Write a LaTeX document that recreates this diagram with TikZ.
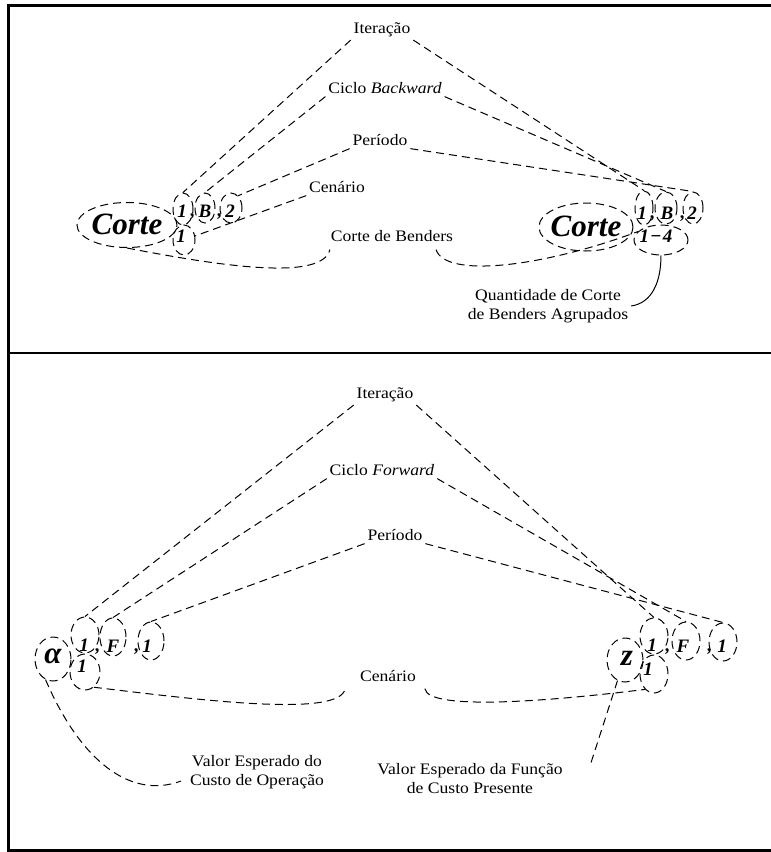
\documentclass[tikz,border=0pt]{standalone}
\usepackage{fontspec}
\setmainfont{Liberation Serif}
\newfontfamily\lblfont[FakeStretch=1.1]{Liberation Serif}
\usetikzlibrary{shapes.geometric,calc}
\begin{document}
\begin{tikzpicture}[x=1pt,y=-1pt,
  dl/.style={dash pattern=on 8pt off 5pt, line width=1pt},
  ell/.style={draw, ellipse, dl, inner sep=0pt},
  lbl/.style={font=\lblfont\fontsize{16}{19}\selectfont, inner sep=1pt, outer sep=2pt, align=center},
  idx/.style={font=\fontsize{19}{20}\selectfont\bfseries\itshape, inner sep=0pt},
  big/.style={font=\fontsize{31}{32}\selectfont\bfseries\itshape, inner sep=0pt}]
\useasboundingbox (0,0) rectangle (771,852);
% frame
\draw[line width=3pt] (775,5) -- (8.5,5) -- (8.5,850) -- (775,850);
\draw[line width=1.5pt] (8.5,353) -- (775,353);

% ---------------- top panel ----------------
\node[lbl] (it1) at (382,30) {Iteração};
\node[lbl] (cb1) at (385,88) {Ciclo \textit{Backward}};
\node[lbl] (pe1) at (380,140) {Período};
\node[lbl] (ce1) at (337,187) {Cenário};
\node[lbl] (cd1) at (392,236) {Corte de Benders};
\node[lbl] (qt1) at (548,306) {Quantidade de Corte\\de Benders Agrupados};

% left group
\node[ell,minimum width=100pt,minimum height=45pt] (TLc) at (127,225) {};
\node[big] (TLct) at (127,224) {Corte};
\node[ell,minimum width=20pt,minimum height=32pt] (TLa) at (183,209) {};
\node[ell,minimum width=20pt,minimum height=30pt] (TLb) at (205,208) {};
\node[ell,minimum width=22pt,minimum height=30pt] (TLd) at (231,208) {};
\node[ell,minimum width=22pt,minimum height=30pt] (TLe) at (184,240) {};
\node[idx] (TLat) at (182,211) {1};
\node[idx] (TLk1) at (193,217) {,};
\node[idx] (TLbt) at (205,211) {B};
\node[idx] (TLk2) at (220,217) {,};
\node[idx] (TLdt) at (230,211) {2};
\node[idx] (TLet) at (181,236) {1};

% right group
\node[ell,minimum width=94pt,minimum height=48pt] (TRc) at (586,227) {};
\node[big] (TRct) at (586,226) {Corte};
\node[ell,minimum width=18pt,minimum height=34pt] (TRa) at (644,208) {};
\node[ell,minimum width=22pt,minimum height=32pt] (TRb) at (666,208) {};
\node[ell,minimum width=20pt,minimum height=32pt] (TRd) at (693,208) {};
\node[ell,minimum width=54pt,minimum height=30pt] (TRe) at (661,240) {};
\node[idx] (TRat) at (642,213) {1};
\node[idx] (TRk1) at (653,219) {,};
\node[idx] (TRbt) at (667,213) {B};
\node[idx] (TRk2) at (683,219) {,};
\node[idx] (TRdt) at (692,213) {2};
\node[idx] (TRet) at (656,236) {1\kern1pt−\kern1pt4};

% connectors top
\draw[dl] (it1.south west) -- (TLa.north);
\draw[dl] (it1.south east) -- (TRa.north);
\draw[dl] (cb1.south west) -- (TLb.north);
\draw[dl] (cb1.south east) -- (TRb.north);
\draw[dl] (pe1.south west) -- (TLd.60);
\draw[dl] (pe1.south east) -- (TRd.north);
\draw[dl] (ce1.south west) -- (TLe.20);
\draw[dl] (TLc.south) .. controls (230,268) and (322,280) .. ([xshift=2pt,yshift=-5pt]cd1.south west);
\draw[dl] ([xshift=-20pt,yshift=-5pt]cd1.south east) .. controls (445,278) and (540,268) .. (TRe.160);
\draw[line width=1pt] (qt1.east) .. controls (652,303) and (661,282) .. (TRe.south);

% ---------------- bottom panel ----------------
\node[lbl] (it2) at (385,395) {Iteração};
\node[lbl] (cf2) at (382,470) {Ciclo \textit{Forward}};
\node[lbl] (pe2) at (395,535) {Período};
\node[lbl] (ce2) at (388,676) {Cenário};
\node[lbl] (ve1) at (257,772) {Valor Esperado do\\Custo de Operação};
\node[lbl] (ve2) at (470,779) {Valor Esperado da Função\\de Custo Presente};

% left group
\node[ell,minimum width=36pt,minimum height=44pt] (BLc) at (53,659) {};
\node[big] (BLct) at (53,656) {α};
\node[ell,minimum width=28pt,minimum height=36pt] (BLa) at (85,635) {};
\node[ell,minimum width=26pt,minimum height=38pt] (BLb) at (113,637) {};
\node[ell,minimum width=26pt,minimum height=38pt] (BLd) at (151,641) {};
\node[ell,minimum width=30pt,minimum height=36pt] (BLe) at (85,672) {};
\node[idx] (BLat) at (84,645) {1};
\node[idx] (BLk1) at (98,652) {,};
\node[idx] (BLbt) at (113,646) {F};
\node[idx] (BLk2) at (137,652) {,};
\node[idx] (BLdt) at (147,646) {1};
\node[idx] (BLet) at (82,666) {1};

% right group
\node[ell,minimum width=36pt,minimum height=44pt] (BRc) at (625,660) {};
\node[big] (BRct) at (627,658) {z};
\node[ell,minimum width=28pt,minimum height=36pt] (BRa) at (654,636) {};
\node[ell,minimum width=28pt,minimum height=38pt] (BRb) at (686,641) {};
\node[ell,minimum width=28pt,minimum height=38pt] (BRd) at (723,642) {};
\node[ell,minimum width=28pt,minimum height=38pt] (BRe) at (654,674) {};
\node[idx] (BRat) at (652,645) {1};
\node[idx] (BRk1) at (668,652) {,};
\node[idx] (BRbt) at (683,646) {F};
\node[idx] (BRk2) at (710,652) {,};
\node[idx] (BRdt) at (722,646) {1};
\node[idx] (BRet) at (648,669) {1};

% connectors bottom
\draw[dl] (it2.south west) -- (BLa.north);
\draw[dl] (it2.south east) -- (BRa.north);
\draw[dl] (cf2.south west) -- (BLb.north);
\draw[dl] (cf2.south east) -- (BRb.north);
\draw[dl] (pe2.south west) -- (BLd.north);
\draw[dl] (pe2.south east) -- (BRd.north);
\draw[dl] (BLe.-60) .. controls (200,700) and (340,718) .. ([xshift=-12pt,yshift=-4pt]ce2.south west);
\draw[dl] ([xshift=6pt,yshift=-4pt]ce2.south east) .. controls (428,712) and (560,700) .. (BRe.-120);
\draw[dl] (BLc.-110) .. controls (80,760) and (130,800) .. ([xshift=-6pt,yshift=-9pt]ve1.west);
\draw[dl] (BRc.-110) -- ($(ve2.east)+(24,-12)$);
\end{tikzpicture}
\end{document}
